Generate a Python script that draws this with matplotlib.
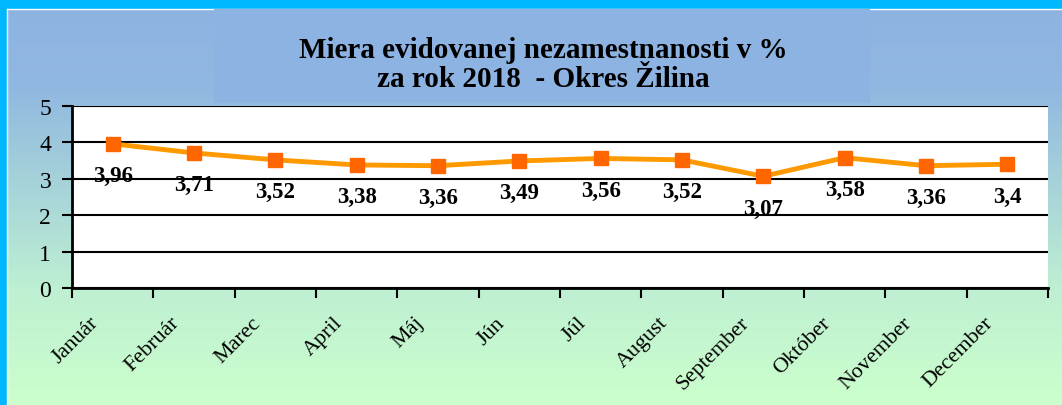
import numpy as np
import matplotlib.pyplot as plt
from matplotlib.patches import Rectangle
from matplotlib.ticker import FixedLocator
from matplotlib.transforms import ScaledTranslation

months = ["Január", "Február", "Marec", "April", "Máj", "Jún", "Júl",
          "August", "September", "Okt\u00f3ber", "November", "December"]
rate = [3.96, 3.71, 3.52, 3.38, 3.36, 3.49, 3.56, 3.52, 3.07, 3.58, 3.36, 3.40]
yticks = [0, 1, 2, 3, 4, 5]
title = "Miera evidovanej nezamestnanosti v %\nza rok 2018  - Okres Žilina"

plt.rcParams["font.family"] = ["Liberation Serif", "DejaVu Serif"]

W, H = 1062, 406
fig = plt.figure(figsize=(W / 100, H / 100), dpi=100)

# background gradient blue -> light green (top to bottom)
bg = fig.add_axes([0, 0, 1, 1], zorder=-10)
stops = [0.0, 0.22, 0.72, 1.0]
cols = np.array([[141, 179, 226], [145, 184, 224], [190, 240, 210], [204, 255, 204]]) / 255
t = np.linspace(0, 1, 406)
grad = np.stack([np.interp(t, stops, cols[:, i]) for i in range(3)], axis=1)
bg.imshow(grad[:, None, :], aspect="auto", extent=[0, 1, 0, 1])
bg.axis("off")

# cyan frame on top and left
fig.add_artist(Rectangle((0, 0), 6 / W, 1, transform=fig.transFigure,
                         color="#00B8FF", zorder=-5))
fig.add_artist(Rectangle((0, 1 - 9 / H), 1, 9 / H, transform=fig.transFigure,
                         color="#00B8FF", zorder=-5))
fig.add_artist(plt.Line2D([6.5 / W, 1], [1 - 9.5 / H, 1 - 9.5 / H],
                          transform=fig.transFigure, color="white", lw=1, zorder=-4))
fig.add_artist(plt.Line2D([6.5 / W, 6.5 / W], [0, 1 - 9.5 / H],
                          transform=fig.transFigure, color="white", lw=1, zorder=-4))

# title box
fig.add_artist(Rectangle((214 / W, 1 - 103 / H), (869 - 214) / W, (103 - 10) / H,
                         transform=fig.transFigure, color="#8DB3E2", zorder=-3))
fig.text(543 / W, 1 - 65 / H, title, ha="center", va="center",
         fontsize=21, fontweight="bold", linespacing=1.05)

ax = fig.add_axes([72 / W, 1 - 289 / H, (1048 - 72) / W, (289 - 107) / H])
ax.set_facecolor("white")
x = np.arange(len(months))
ax.plot(x, rate, color="#FF9900", lw=3.5, marker="s", markersize=9.5,
        markerfacecolor="#FF6600", markeredgecolor="#FF6600", zorder=3)
for xi, v in zip(x, rate):
    ax.annotate(f"{v:g}".replace(".", ","), (xi, v), xytext=(0, -23),
                textcoords="offset points", ha="center", va="center",
                fontsize=16.5, fontweight="bold", zorder=4)

ax.set_xlim(-0.5, len(months) - 0.5)
ax.set_ylim(0, 5)
ax.set_yticks(yticks)
ax.yaxis.grid(True, color="black", lw=1.5)
ax.set_axisbelow(True)
ax.tick_params(axis="y", labelsize=17, length=7, width=1.5, pad=8)

ax.set_xticks(x)
ax.set_xticklabels(months, rotation=45, ha="right", rotation_mode="anchor",
                   fontsize=15.8)
ax.tick_params(axis="x", length=0, pad=18)
shift = ScaledTranslation(-24 / 100, 0, fig.dpi_scale_trans)
for lab in ax.get_xticklabels():
    lab.set_transform(lab.get_transform() + shift)
ax.xaxis.set_minor_locator(FixedLocator(np.arange(-0.5, len(months), 1)))
ax.tick_params(axis="x", which="minor", length=7, width=1.5)

for s in ["top", "right"]:
    ax.spines[s].set_visible(False)
for s in ["left", "bottom"]:
    ax.spines[s].set_linewidth(2)

fig.savefig("out.png", dpi=100)
